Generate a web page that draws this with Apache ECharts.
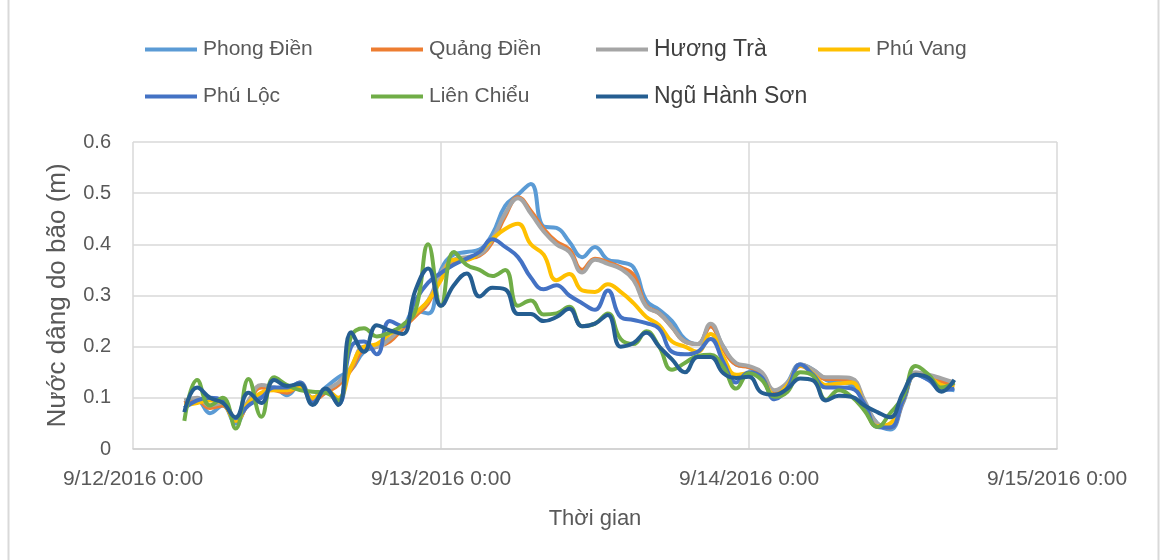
<!DOCTYPE html>
<html>
<head>
<meta charset="utf-8">
<script src="https://cdn.jsdelivr.net/npm/echarts@6/dist/echarts.min.js"></script>
<style>
html,body{margin:0;padding:0;background:#fff;}
#chart{width:1164px;height:560px;}
</style>
</head>
<body>
<div id="chart"></div>
<script>
// Hours since 9/12/2016 0:00
const hours = [4,5,6,7,8,9,10,11,12,13,14,15,16,17,18,19,20,21,22,23,24,25,26,27,28,29,30,31,32,33,34,35,36,37,38,39,40,41,42,43,44,45,46,47,48,49,50,51,52,53,54,55,56,57,58,59,60,61,62,63,64];
const xTickLabels = ['9/12/2016 0:00','9/13/2016 0:00','9/14/2016 0:00','9/15/2016 0:00'];
const yTickLabels = ['0','0.1','0.2','0.3','0.4','0.5','0.6'];
const seriesNames = ['Phong Điền','Quảng Điền','Hương Trà','Phú Vang','Phú Lộc','Liên Chiểu','Ngũ Hành Sơn'];

const phongDien = [0.09,0.095,0.07,0.085,0.05,0.09,0.105,0.12,0.105,0.125,0.1,0.12,0.14,0.155,0.19,0.2,0.215,0.235,0.27,0.265,0.35,0.38,0.385,0.39,0.42,0.475,0.497,0.518,0.435,0.432,0.405,0.375,0.395,0.37,0.365,0.355,0.29,0.272,0.25,0.215,0.205,0.24,0.2,0.165,0.16,0.14,0.1,0.13,0.165,0.155,0.135,0.13,0.125,0.09,0.05,0.038,0.09,0.145,0.135,0.12,0.115];
const quangDien = [0.09,0.095,0.08,0.085,0.055,0.09,0.12,0.115,0.11,0.125,0.095,0.11,0.125,0.155,0.195,0.2,0.21,0.235,0.26,0.285,0.34,0.365,0.372,0.378,0.405,0.455,0.492,0.465,0.43,0.405,0.39,0.35,0.372,0.365,0.355,0.34,0.28,0.265,0.238,0.21,0.205,0.24,0.195,0.165,0.16,0.148,0.112,0.128,0.162,0.152,0.137,0.137,0.135,0.092,0.048,0.042,0.093,0.148,0.142,0.132,0.123];
const huongTra = [0.095,0.1,0.085,0.09,0.06,0.095,0.125,0.12,0.115,0.13,0.1,0.115,0.13,0.16,0.2,0.2,0.215,0.24,0.265,0.29,0.345,0.37,0.375,0.38,0.41,0.46,0.49,0.46,0.425,0.4,0.385,0.345,0.37,0.362,0.352,0.33,0.278,0.265,0.238,0.21,0.205,0.245,0.2,0.168,0.162,0.15,0.115,0.13,0.165,0.155,0.14,0.14,0.138,0.095,0.05,0.043,0.095,0.15,0.145,0.138,0.13];
const phuVang = [0.085,0.09,0.095,0.09,0.055,0.09,0.11,0.115,0.115,0.12,0.1,0.115,0.1,0.16,0.2,0.205,0.225,0.24,0.265,0.29,0.33,0.37,0.37,0.385,0.41,0.43,0.44,0.4,0.38,0.33,0.342,0.31,0.307,0.322,0.307,0.285,0.258,0.242,0.21,0.2,0.19,0.225,0.18,0.145,0.148,0.138,0.105,0.125,0.163,0.147,0.125,0.128,0.13,0.085,0.045,0.05,0.095,0.145,0.14,0.125,0.12];
const phuLoc = [0.08,0.095,0.1,0.095,0.06,0.085,0.1,0.12,0.12,0.13,0.09,0.115,0.088,0.2,0.21,0.185,0.25,0.24,0.29,0.325,0.344,0.36,0.372,0.385,0.41,0.395,0.375,0.335,0.312,0.32,0.3,0.285,0.272,0.31,0.258,0.252,0.246,0.235,0.19,0.185,0.19,0.215,0.17,0.13,0.15,0.14,0.097,0.12,0.165,0.145,0.12,0.12,0.118,0.088,0.043,0.042,0.095,0.145,0.135,0.115,0.118];
const lienChieu = [0.055,0.135,0.085,0.1,0.04,0.137,0.063,0.14,0.125,0.115,0.112,0.11,0.095,0.22,0.236,0.22,0.228,0.242,0.27,0.4,0.28,0.385,0.36,0.35,0.338,0.35,0.28,0.29,0.263,0.265,0.278,0.24,0.245,0.265,0.215,0.205,0.23,0.2,0.155,0.168,0.182,0.184,0.16,0.118,0.148,0.135,0.102,0.112,0.15,0.143,0.096,0.115,0.102,0.075,0.043,0.07,0.102,0.162,0.145,0.12,0.13];
const nguHanhSon = [0.072,0.12,0.1,0.09,0.062,0.11,0.09,0.135,0.123,0.127,0.086,0.118,0.086,0.228,0.19,0.242,0.232,0.225,0.31,0.353,0.28,0.32,0.343,0.298,0.315,0.312,0.264,0.264,0.25,0.258,0.274,0.24,0.245,0.262,0.2,0.207,0.227,0.2,0.175,0.15,0.18,0.18,0.148,0.139,0.141,0.11,0.106,0.118,0.138,0.134,0.095,0.104,0.102,0.085,0.072,0.062,0.11,0.145,0.139,0.112,0.135];

const seriesValues = [phongDien, quangDien, huongTra, phuVang, phuLoc, lienChieu, nguHanhSon];
const colors = ['#5B9BD5','#ED7D31','#A5A5A5','#FFC000','#4472C4','#70AD47','#255E91'];

const legendPos = [[145,39],[371,39],[596,39],[818,39],[145,86],[371,86],[596,86]];
const bigLegend = {'Hương Trà':true,'Ngũ Hành Sơn':true};

const chart = echarts.init(document.getElementById('chart'), null, {renderer:'canvas'});

const legends = seriesNames.map((n,i)=>({
  data:[n], left:legendPos[i][0], top: bigLegend[n] ? legendPos[i][1]-1 : legendPos[i][1], padding:0,
  icon:'rect', itemWidth:52, itemHeight:4, itemGap:0,
  selectedMode:false,
  textStyle:{fontFamily:'Liberation Sans', fontSize: bigLegend[n]?23:21, color: bigLegend[n]?'#404040':'#595959', padding:[0,0,0,1]}
}));

const series = seriesNames.map((n,i)=>({
  name:n, type:'line', smooth:0.45, showSymbol:false, symbol:'none',
  color:colors[i],
  lineStyle:{width:4, color:colors[i]},
  emphasis:{disabled:true},
  data: hours.map((h,k)=>[h, seriesValues[i][k]])
}));

chart.setOption({
  animation:false,
  backgroundColor:'#ffffff',
  graphic:[
    {type:'line', shape:{x1:8.5,y1:0,x2:8.5,y2:560}, style:{stroke:'#d9d9d9', lineWidth:2}},
    {type:'line', shape:{x1:1158.5,y1:0,x2:1158.5,y2:560}, style:{stroke:'#d9d9d9', lineWidth:2}}
  ],
  legend: legends,
  grid:{left:133, right:107, top:142, bottom:111, containLabel:false},
  xAxis:{
    type:'value', min:0, max:72, interval:24,
    name:'Thời gian', nameLocation:'middle', nameGap:59,
    nameTextStyle:{fontFamily:'Liberation Sans', fontSize:22, color:'#595959'},
    axisLine:{show:true, lineStyle:{color:'#d0d0d0', width:1.5}},
    axisTick:{show:false},
    splitLine:{show:true, lineStyle:{color:'#d9d9d9', width:1.5}},
    axisLabel:{margin:20, fontFamily:'Liberation Sans', fontSize:21, color:'#595959',
      formatter:(v)=>xTickLabels[Math.round(v/24)]}
  },
  yAxis:{
    type:'value', min:0, max:0.6, interval:0.1,
    name:'Nước dâng do bão (m)', nameLocation:'middle', nameGap:62, nameRotate:90,
    nameTextStyle:{fontFamily:'Liberation Sans', fontSize:26, color:'#595959'},
    axisLine:{show:false}, axisTick:{show:false},
    splitLine:{show:true, lineStyle:{color:'#d9d9d9', width:1.5}},
    axisLabel:{margin:22, fontFamily:'Liberation Sans', fontSize:20, color:'#595959',
      formatter:(v)=>yTickLabels[Math.round(v*10)]}
  },
  series: series
});
</script>
</body>
</html>
